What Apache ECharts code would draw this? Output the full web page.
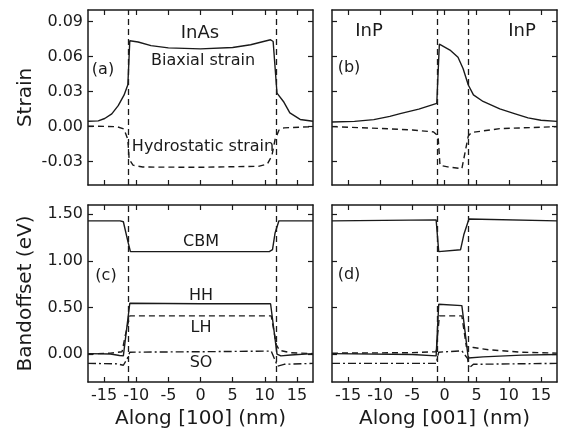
<!DOCTYPE html>
<html>
<head>
<meta charset="utf-8">
<script src="https://cdn.jsdelivr.net/npm/echarts@6/dist/echarts.min.js"></script>
<style>
html,body{margin:0;padding:0;background:#fff;}
#chart{width:566px;height:431px;}
</style>
</head>
<body>
<div id="chart"></div>
<script>
// ---- data ----
const xTicks = [-15, -10, -5, 0, 5, 10, 15];
const strainTicks = [-0.03, 0, 0.03, 0.06, 0.09];
const bandTicks = [0, 0.5, 1.0, 1.5];

// dot boundaries (nm)
const boundsA = [-11.3, 11.8];
const boundsB = [-1.15, 3.7];

// (a) InAs along [100]
const biaxialA = [[-17.5,0.0047],[-15.9,0.005],[-14.9,0.007],[-13.8,0.011],[-12.8,0.018],[-11.9,0.027],[-11.3,0.036],[-11.0,0.0736],[-9.7,0.0726],[-7.7,0.0695],[-5,0.0675],[0,0.0667],[5,0.0678],[7.8,0.0702],[9.8,0.073],[10.9,0.0745],[11.3,0.073],[11.9,0.0287],[12.9,0.0216],[13.9,0.0118],[15.5,0.0062],[17.5,0.0047]];
const hydroA = [[-17.5,0.0005],[-13,0.0],[-11.9,-0.002],[-11.3,-0.011],[-11.1,-0.028],[-10.5,-0.033],[-9,-0.0346],[0,-0.0348],[9,-0.034],[10.4,-0.032],[11.1,-0.025],[11.6,-0.011],[12.2,-0.003],[13,-0.001],[17.5,0.0]];

// (b) along [001]
const biaxialB = [[-17.5,0.004],[-14,0.0045],[-11,0.006],[-8.5,0.0088],[-6.9,0.0112],[-4,0.015],[-1.2,0.020],[-0.8,0.0708],[0.85,0.0657],[2.1,0.0595],[2.9,0.0497],[3.7,0.0357],[4.5,0.0272],[6.0,0.0216],[8.6,0.0152],[11,0.011],[13,0.0075],[15,0.0055],[17.5,0.0045]];
const hydroB = [[-17.5,0],[-10,-0.0015],[-5,-0.0028],[-1.7,-0.0045],[-1.0,-0.008],[-0.7,-0.0332],[0.5,-0.0345],[2.7,-0.036],[3.7,-0.008],[4.2,-0.005],[8.6,-0.0017],[17.5,0]];

// (c) band offsets along [100]
const cbmC = [[-17.5,1.43],[-12.5,1.43],[-12.0,1.42],[-11.3,1.21],[-10.9,1.10],[0,1.10],[10.7,1.10],[11.2,1.12],[11.6,1.30],[12.2,1.43],[17.5,1.43]];
const hhC = [[-17.5,0.005],[-14,0.0],[-12.6,-0.015],[-12.0,-0.02],[-11.0,0.545],[0,0.54],[10.9,0.54],[11.9,0.0],[12.5,-0.02],[14,-0.01],[17.5,0.005]];
const lhC = [[-17.5,0.0],[-14,0.01],[-12.2,0.025],[-11.7,0.2],[-11.0,0.41],[0,0.41],[11.0,0.41],[11.8,0.1],[12.3,0.04],[14,0.015],[17.5,0.005]];
const soC = [[-17.5,-0.10],[-13,-0.105],[-12.0,-0.12],[-11.4,-0.05],[-11.0,0.02],[0,0.025],[11.0,0.032],[11.5,-0.05],[12.0,-0.13],[13,-0.11],[17.5,-0.10]];

// (d) band offsets along [001]
const cbmD = [[-17.5,1.43],[-1.3,1.44],[-0.9,1.10],[2.5,1.12],[3.0,1.28],[3.8,1.45],[17.5,1.43]];
const hhD = [[-17.5,0.005],[-5,-0.005],[-1.3,-0.02],[-0.9,0.535],[2.7,0.52],[3.7,-0.043],[6,-0.03],[12,-0.012],[17.5,-0.005]];
const lhD = [[-17.5,0.01],[-5,0.015],[-1.3,0.025],[-0.8,0.41],[2.7,0.41],[3.4,0.08],[4.5,0.07],[7,0.045],[12,0.02],[17.5,0.01]];
const soD = [[-17.5,-0.10],[-1.3,-0.10],[-0.9,0.02],[2.7,0.035],[3.6,-0.05],[3.8,-0.15],[4.5,-0.11],[17.5,-0.10]];

// ---- chart ----
const FONT = 'DejaVu Sans';
const INK = '#1a1a1a';
const grids = [
  {left: 88, top: 10, width: 225, height: 175},
  {left: 332, top: 10, width: 225, height: 175},
  {left: 88, top: 205, width: 225, height: 177},
  {left: 332, top: 205, width: 225, height: 177}
];
const axLine = {show: true, onZero: false, lineStyle: {color: INK, width: 1.5}};
const tick = (vals) => ({show: true, inside: true, length: 5, customValues: vals, lineStyle: {color: INK, width: 1.2}});

const xAxes = [], yAxes = [];
grids.forEach((g, i) => {
  const bottomRow = i >= 2;
  xAxes.push({
    type: 'value', gridIndex: i, position: 'bottom', min: -17.5, max: 17.5,
    axisLine: axLine, axisTick: tick(xTicks), splitLine: {show: false},
    axisLabel: {show: bottomRow, customValues: xTicks, margin: 6, fontFamily: FONT, fontSize: 16, color: INK},
    name: bottomRow ? (i === 2 ? 'Along [100] (nm)' : 'Along [001] (nm)') : '',
    nameLocation: 'middle', nameGap: 27,
    nameTextStyle: {fontFamily: FONT, fontSize: 20, color: INK}
  });
  xAxes.push({
    type: 'value', gridIndex: i, position: 'top', min: -17.5, max: 17.5,
    axisLine: axLine, axisTick: tick(xTicks), splitLine: {show: false}, axisLabel: {show: false}
  });
  const strain = i < 2;
  const yt = strain ? strainTicks : bandTicks;
  const leftCol = i % 2 === 0;
  yAxes.push({
    type: 'value', gridIndex: i, position: 'left',
    min: strain ? -0.05 : -0.3, max: strain ? 0.10 : 1.6,
    axisLine: axLine, axisTick: tick(yt), splitLine: {show: false},
    axisLabel: {show: leftCol, customValues: yt, margin: 5, fontFamily: FONT, fontSize: 16, color: INK,
      formatter: v => v.toFixed(2)},
    name: leftCol ? (strain ? 'Strain' : 'Bandoffset (eV)') : '',
    nameLocation: 'middle', nameGap: 52,
    nameTextStyle: {fontFamily: FONT, fontSize: 20, color: INK}
  });
  yAxes.push({
    type: 'value', gridIndex: i, position: 'right',
    min: strain ? -0.05 : -0.3, max: strain ? 0.10 : 1.6,
    axisLine: axLine, axisTick: tick(yt), splitLine: {show: false}, axisLabel: {show: false}
  });
});

const SOLID = 'solid', DASH = [6, 4], DASHDOT = [8, 3, 2, 3];
function line(data, gi, type, bounds) {
  const s = {
    type: 'line', data: data, xAxisIndex: gi * 2, yAxisIndex: gi * 2,
    showSymbol: false, symbol: 'none', silent: true,
    lineStyle: {color: INK, width: 1.4, type: type}
  };
  if (bounds) {
    s.markLine = {
      silent: true, symbol: 'none', label: {show: false},
      lineStyle: {color: INK, width: 1.3, type: DASH},
      data: bounds.map(b => ({xAxis: b}))
    };
  }
  return s;
}

const series = [
  line(biaxialA, 0, SOLID, boundsA), line(hydroA, 0, DASH),
  line(biaxialB, 1, SOLID, boundsB), line(hydroB, 1, DASH),
  line(cbmC, 2, SOLID, boundsA), line(hhC, 2, SOLID), line(lhC, 2, DASH), line(soC, 2, DASHDOT),
  line(cbmD, 3, SOLID, boundsB), line(hhD, 3, SOLID), line(lhD, 3, DASH), line(soD, 3, DASHDOT)
];

function txt(t, x, y, size) {
  return {type: 'text', x: x, y: y, silent: true,
    style: {text: t, fill: INK, font: size + 'px "' + FONT + '"', align: 'center', verticalAlign: 'middle'}};
}
const notes = [
  txt('InAs', 200, 33, 18), txt('Biaxial strain', 203, 61, 16), txt('(a)', 103, 70, 16),
  txt('Hydrostatic strain', 203, 147, 16),
  txt('InP', 369, 31, 18), txt('InP', 522, 31, 18), txt('(b)', 349, 68, 16),
  txt('CBM', 201, 242, 16), txt('HH', 201, 296, 16), txt('LH', 201, 328, 16), txt('SO', 201, 363, 16),
  txt('(c)', 106, 276, 16), txt('(d)', 349, 275, 16)
];

const chart = echarts.init(document.getElementById('chart'), null, {renderer: 'canvas'});
chart.setOption({
  animation: false,
  backgroundColor: '#fff',
  grid: grids,
  xAxis: xAxes,
  yAxis: yAxes,
  series: series,
  graphic: notes
});
</script>
</body>
</html>
